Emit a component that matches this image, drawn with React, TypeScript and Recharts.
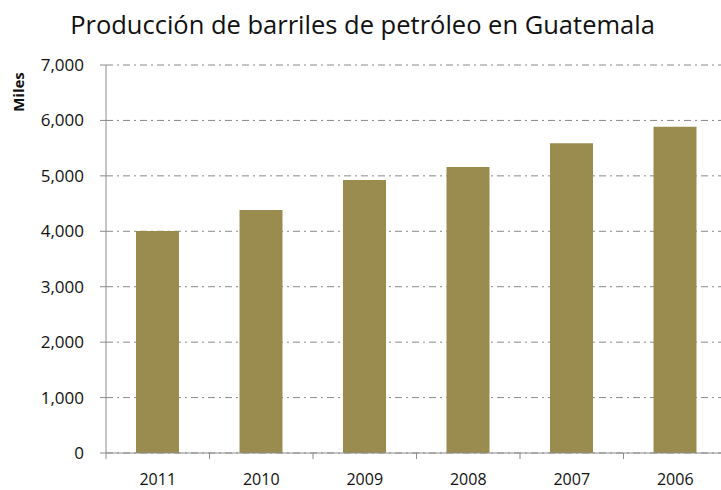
import { Bar, BarChart, CartesianGrid, XAxis, YAxis } from "recharts";

const years = ["2011", "2010", "2009", "2008", "2007", "2006"];
const production = [4005, 4385, 4925, 5160, 5590, 5885];
const yTicks = [0, 1000, 2000, 3000, 4000, 5000, 6000, 7000];

const data = years.map((year, i) => ({ year, value: production[i] }));

const AXIS = "#8c8c8c";
const FONT = "'Open Sans', 'DejaVu Sans', sans-serif";
const CHART_W = 727;
const PLOT_LEFT = 106;
const HALF_BAND = (CHART_W - PLOT_LEFT) / years.length / 2;

const formatNumber = (v: number) => new Intl.NumberFormat("en-US").format(v);

const XTick = (props: any) => {
  const { x, y, payload } = props;
  return (
    <g>
      <line x1={x - HALF_BAND} x2={x - HALF_BAND} y1={y - 8} y2={y - 2} stroke={AXIS} strokeWidth={1} />
      <text x={x} y={y + 24} textAnchor="middle" fontSize={16} fill="#111" fontFamily={FONT}>
        {payload.value}
      </text>
    </g>
  );
};

export default function App() {
  return (
    <div style={{ position: "absolute", left: 0, top: 0, width: 721, height: 490, overflow: "hidden", background: "#fff" }}>
      <div
        style={{
          position: "absolute",
          left: 0,
          top: 7,
          width: 725,
          textAlign: "center",
          fontFamily: FONT,
          fontSize: 25.5,
          color: "#111",
        }}
      >
        Producción de barriles de petróleo en Guatemala
      </div>
      <div
        style={{
          position: "absolute",
          left: 18,
          top: 92,
          transform: "translate(-50%, -50%) rotate(-90deg)",
          fontFamily: FONT,
          fontWeight: 700,
          fontSize: 15,
          color: "#111",
        }}
      >
        Miles
      </div>
      <BarChart
        width={CHART_W}
        height={490}
        data={data}
        margin={{ top: 65, right: 0, left: 0, bottom: 0 }}
        barSize={43}
      >
        <CartesianGrid
          vertical={false}
          stroke="#8a8a8a"
          strokeDasharray="7 4 2 4"
          strokeWidth={1}
        />
        <XAxis
          dataKey="year"
          height={37}
          axisLine={{ stroke: AXIS }}
          tickLine={false}
          tick={<XTick />}
          interval={0}
        />
        <YAxis
          width={PLOT_LEFT}
          domain={[0, 7000]}
          ticks={yTicks}
          axisLine={{ stroke: AXIS }}
          tickLine={{ stroke: AXIS }}
          tickSize={6}
          tickMargin={16}
          tick={{ fontSize: 17, fill: "#111", fontFamily: FONT }}
          tickFormatter={formatNumber}
        />
        <Bar dataKey="value" fill="#9a8b4f" isAnimationActive={false} />
      </BarChart>
    </div>
  );
}
